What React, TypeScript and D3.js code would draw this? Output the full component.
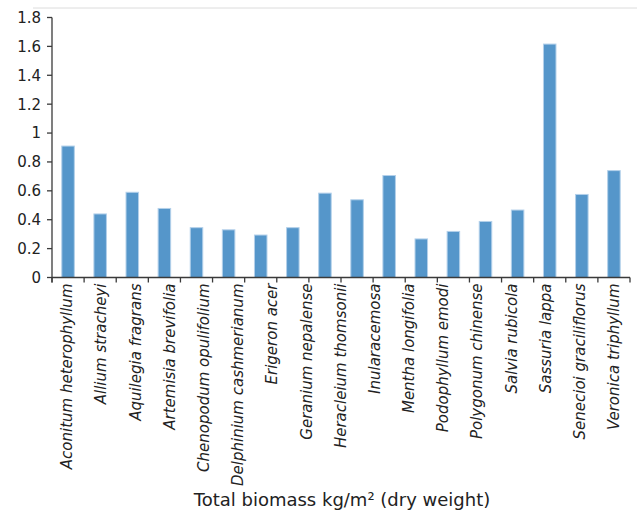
import React from "react";
import * as d3 from "d3";

const barValues = [0.91, 0.44, 0.59, 0.478, 0.345, 0.33, 0.294, 0.345, 0.584, 0.538, 0.706, 0.267, 0.319, 0.388, 0.467, 1.616, 0.575, 0.74];
const barIds = barValues.map((_, i) => `b${i}`);
const speciesLabels = [
  "Aconitum heterophyllum",
  "Allium stracheyi",
  "Aquilegia fragrans",
  "Artemisia brevifolia",
  "Chenopodum opulifolium",
  "Delphinium cashmerianum",
  "Erigeron acer",
  "Geranium nepalense",
  "Heracleium thomsonii",
  "Inularacemosa",
  "Mentha longifolia",
  "Podophyllum emodi",
  "Polygonum chinense",
  "Salvia rubicola",
  "Sassuria lappa",
  "Senecioi graciliflorus",
  "Veronica triphyllum",
];
const yTicks = [0, 0.2, 0.4, 0.6, 0.8, 1, 1.2, 1.4, 1.6, 1.8];
const xTitle = "Total biomass kg/m² (dry weight)";

const W = 637;
const H = 513;
const left = 52;
const right = 630;
const top = 17.5;
const bottom = 277.5;
const axisColor = "#3a3a3a";
const font = "'DejaVu Sans', sans-serif";

export default function App() {
  const x = d3.scaleBand<string>().domain(barIds).range([left, right]).paddingInner(0.61).paddingOuter(0.305);
  const y = d3.scaleLinear().domain([0, 1.8]).range([bottom, top]);
  const step = x.step();
  const boundaries = d3.range(barIds.length + 1).map((i) => left + i * step);
  const bw = x.bandwidth();
  const lx = d3
    .scalePoint<string>()
    .domain(speciesLabels)
    .range([(x(barIds[0]) as number) + bw / 2 - 1, (x(barIds[barIds.length - 1]) as number) + bw / 2]);

  return (
    <svg width={W} height={H} style={{ position: "absolute", left: 0, top: 0, background: "#fff" }} fontFamily={font}>
      <line x1={33} x2={W} y1={8} y2={8} stroke="#dcdcdc" strokeWidth={1} />
      {barValues.map((v, i) => (
        <rect
          key={barIds[i]}
          x={x(barIds[i])}
          y={y(v)}
          width={bw}
          height={y(0) - y(v)}
          fill="#5596ca"
          stroke="#b3d0ea"
          strokeWidth={1}
        />
      ))}
      {/* y axis */}
      <line x1={left} x2={left} y1={top} y2={bottom + 5} stroke={axisColor} strokeWidth={1.3} />
      {yTicks.map((t) => (
        <g key={t}>
          <line x1={left - 5} x2={left} y1={y(t)} y2={y(t)} stroke={axisColor} strokeWidth={1.3} />
          <text x={41} y={y(t)} dy="0.36em" textAnchor="end" fontSize={15} fill="#222">
            {String(+t.toFixed(1))}
          </text>
        </g>
      ))}
      {/* x axis */}
      <line x1={left} x2={right} y1={bottom} y2={bottom} stroke={axisColor} strokeWidth={1.3} />
      {boundaries.map((b, i) => (
        <line key={i} x1={b} x2={b} y1={bottom} y2={bottom + 5} stroke={axisColor} strokeWidth={1.3} />
      ))}
      {speciesLabels.map((s) => (
        <text
          key={s}
          transform={`translate(${lx(s)},${bottom + 6}) rotate(-90)`}
          textAnchor="end"
          dy="0.35em"
          fontSize={15}
          fontStyle="italic"
          fill="#222"
        >
          {s}
        </text>
      ))}
      <text x={(left + right) / 2 + 1} y={505.5} textAnchor="middle" fontSize={18} fill="#222">
        {xTitle}
      </text>
    </svg>
  );
}
